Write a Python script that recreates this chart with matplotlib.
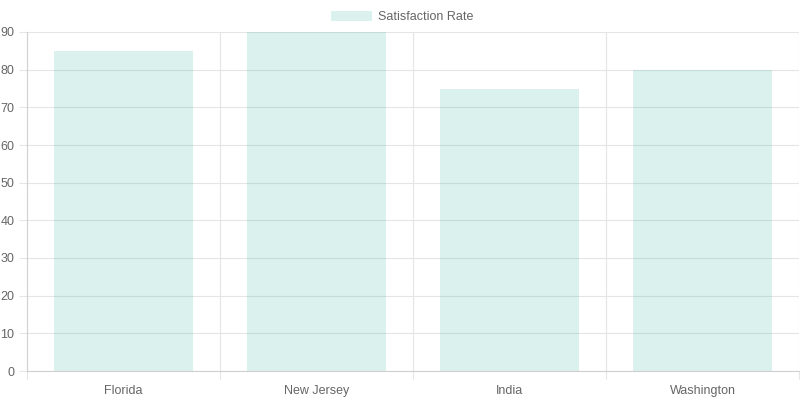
import matplotlib
matplotlib.use("Agg")
import matplotlib.pyplot as plt
from matplotlib.patches import Patch

categories = ["Florida", "New Jersey", "India", "Washington"]
satisfaction = [85, 90, 75, 80]
yticks = [0, 10, 20, 30, 40, 50, 60, 70, 80, 90]

plt.rcParams['font.family'] = ['Liberation Sans', 'DejaVu Sans']

fig = plt.figure(figsize=(8, 4), dpi=100)
ax = fig.add_axes([27/800, 29/400, 772/800, 339/400])

bar_color = (75/255, 185/255, 170/255, 0.2)
grid_color = "#e5e5e5"
axis_color = "#d0d0d0"
text_color = "#666666"

ax.bar(range(len(categories)), satisfaction, width=0.72, color=bar_color, zorder=2)

ax.set_xlim(-0.5, len(categories) - 0.5)
ax.set_ylim(0, 90)

ax.set_xticks(range(len(categories)))
ax.set_xticklabels(categories)
ax.set_xticks([i - 0.5 for i in range(len(categories) + 1)], minor=True)
ax.set_yticks(yticks)
ax.set_yticklabels([str(v) for v in yticks])

ax.tick_params(axis='x', which='major', length=0, pad=10, labelsize=9, labelcolor=text_color)
ax.tick_params(axis='x', which='minor', length=6, color=grid_color, width=0.8)
ax.tick_params(axis='y', which='major', length=6, color=grid_color, width=0.8, pad=3,
               labelsize=9, labelcolor=text_color)

ax.grid(True, which='minor', axis='x', color=grid_color, linewidth=0.8, alpha=1)
ax.grid(True, which='major', axis='y', color=grid_color, linewidth=0.8, alpha=1)
ax.set_axisbelow(True)

for s in ['top', 'right']:
    ax.spines[s].set_visible(False)
for s in ['left', 'bottom']:
    ax.spines[s].set_color(axis_color)
    ax.spines[s].set_linewidth(0.8)

handle = Patch(facecolor=bar_color, edgecolor='none')
leg = fig.legend([handle], ["Satisfaction Rate"], loc='center', bbox_to_anchor=(0.5 + 2/800, 1 - 17/400),
                 frameon=False, fontsize=9, handlelength=3.3, handleheight=0.9,
                 handletextpad=0.5, labelcolor=text_color)

fig.savefig("out.png", dpi=100)
